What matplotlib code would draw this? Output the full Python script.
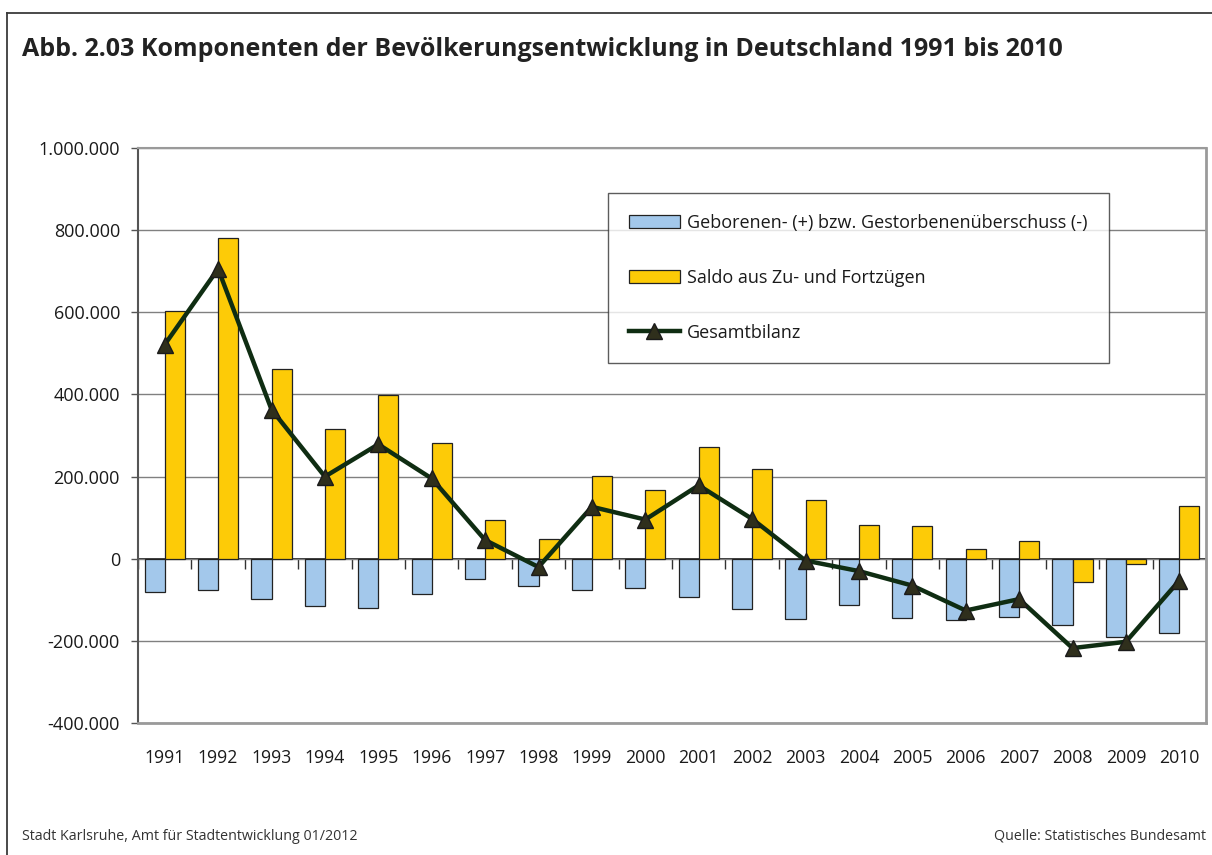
import matplotlib
matplotlib.use("Agg")
import matplotlib.pyplot as plt
import numpy as np
from matplotlib.ticker import FuncFormatter
from matplotlib.lines import Line2D

plt.rcParams['font.family'] = ['Open Sans', 'DejaVu Sans']

years = ['1991', '1992', '1993', '1994', '1995', '1996', '1997', '1998', '1999', '2000',
         '2001', '2002', '2003', '2004', '2005', '2006', '2007', '2008', '2009', '2010']
natural = [-81226, -76328, -98823, -115058, -119367, -86830, -48216, -67348, -75586, -71798,
           -94066, -122436, -147225, -112649, -144432, -148903, -142293, -161925, -189418, -180821]
migration = [602523, 782071, 462096, 314998, 397935, 282197, 93664, 47098, 201975, 167120,
             272723, 219288, 142645, 82543, 78953, 22791, 43912, -55743, -12782, 127677]
total = [521297, 705743, 363273, 199940, 278568, 195367, 45448, -20250, 126389, 95322,
         178657, 96852, -4580, -30106, -65479, -126112, -98381, -217668, -202200, -53144]

title = "Abb. 2.03 Komponenten der Bevölkerungsentwicklung in Deutschland 1991 bis 2010"
label_nat = "Geborenen- (+) bzw. Gestorbenenüberschuss (-)"
label_mig = "Saldo aus Zu- und Fortzügen"
label_tot = "Gesamtbilanz"
footer_left = "Stadt Karlsruhe, Amt für Stadtentwicklung 01/2012"
footer_right = "Quelle: Statistisches Bundesamt"

W, H = 1212, 855
fig = plt.figure(figsize=(W / 100, H / 100), dpi=100)

# outer frame
fig.add_artist(Line2D([7 / W, 7 / W], [0, 1 - 13 / H], color='#3a3a3a', lw=1.3))
fig.add_artist(Line2D([7 / W, 1], [1 - 13 / H, 1 - 13 / H], color='#3a3a3a', lw=1.3))

ax = fig.add_axes([138 / W, 1 - 723 / H, (1206 - 138) / W, (723 - 148) / H])

x = np.arange(len(years))
bw = 0.375
b1 = ax.bar(x - bw / 2, natural, width=bw, color='#A3C8EB', edgecolor='#222222', linewidth=0.9,
            label=label_nat, zorder=3)
b2 = ax.bar(x + bw / 2, migration, width=bw, color='#FDCB07', edgecolor='#222222', linewidth=0.9,
            label=label_mig, zorder=3)
l1, = ax.plot(x, total, color='#0F2D12', lw=3.2, marker='^', markersize=12,
              markerfacecolor='#2F2F1C', markeredgecolor='#1a1a1a', markeredgewidth=1.0,
              label=label_tot, zorder=4)

ymin, ymax = -400000, 1000000
ax.set_ylim(ymin, ymax)
ax.set_xlim(-0.5, len(years) - 0.5)
ax.set_yticks(np.arange(ymin, ymax + 1, 200000))
ax.yaxis.set_major_formatter(FuncFormatter(lambda v, p: f"{int(v):,}".replace(',', '.')))
ax.grid(axis='y', color='#808080', lw=1.0, zorder=0)
ax.set_axisbelow(True)

ax.set_xticks(x)
ax.set_xticklabels(years)
ax.tick_params(axis='x', length=0, pad=19, labelsize=12.7, colors='#1a1a1a')
ax.tick_params(axis='y', length=5, width=1, direction='out', labelsize=13, pad=8,
               colors='#1a1a1a', color='#555555')

for s in ['top', 'right', 'bottom']:
    ax.spines[s].set_color('#9a9a9a')
    ax.spines[s].set_linewidth(2.0)
ax.spines['top'].set_linewidth(1.5)
ax.spines['left'].set_color('#555555')
ax.spines['left'].set_linewidth(1.5)

# zero line with category boundary ticks
zero_pos = (0 - ymin) / (ymax - ymin)
sec = ax.secondary_xaxis(zero_pos)
sec.set_xticks(np.arange(len(years) + 1) - 0.5)
sec.set_xticklabels([])
sec.tick_params(axis='x', direction='out', length=7, width=1.0, color='#333333')
sec.spines['bottom'].set_color('#222222')
sec.spines['bottom'].set_linewidth(1.3)
sec.spines['bottom'].set_zorder(5)

leg = ax.legend(handles=[b1, b2, l1], labels=[label_nat, label_mig, label_tot],
                loc='upper left', bbox_to_anchor=(0.44, 0.9217), frameon=True, fancybox=False,
                fontsize=13, handlelength=2.85, handleheight=0.7, handletextpad=0.4,
                labelspacing=2.05, borderpad=1.15, borderaxespad=0, numpoints=1)
leg.get_frame().set_edgecolor('#333333')
leg.get_frame().set_linewidth(1.0)
for t in leg.get_texts():
    t.set_color('#1a1a1a')

fig.text(22 / W, 1 - 50 / H, title, fontsize=18, fontweight='bold', color='#222222',
         ha='left', va='center')
fig.text(22 / W, 1 - 836 / H, footer_left, fontsize=10.3, color='#333333', ha='left', va='center')
fig.text(1206 / W, 1 - 836 / H, footer_right, fontsize=10.3, color='#333333', ha='right', va='center')

fig.savefig('out.png', dpi=100)
